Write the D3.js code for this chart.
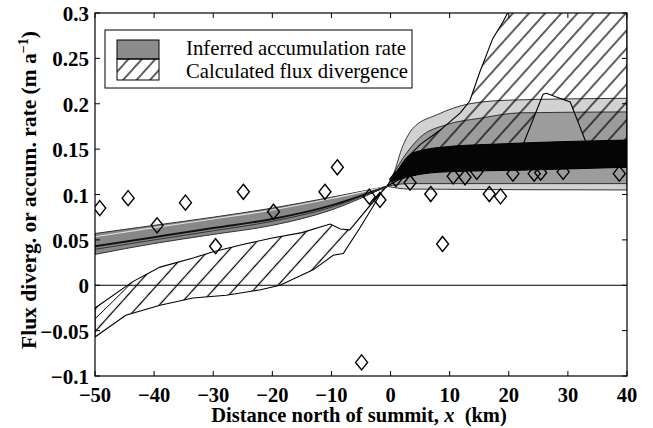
<!DOCTYPE html>
<html>
<head>
<meta charset="utf-8">
<script src="https://cdn.jsdelivr.net/npm/d3@7"></script>
<style>
  body { margin: 0; background: #fff; }
  text { font-family: "Liberation Serif", "Times New Roman", serif; }
</style>
</head>
<body>
<svg id="chart" width="653" height="428"></svg>
<script>
// ---------- data ----------
var xTicks = [-50, -40, -30, -20, -10, 0, 10, 20, 30, 40];
var yTicks = [-0.1, -0.05, 0, 0.05, 0.1, 0.15, 0.2, 0.25, 0.3];
var yTickLabels = ["\u22120.1", "\u22120.05", "0", "0.05", "0.1", "0.15", "0.2", "0.25", "0.3"];

// inferred accumulation rate, south side (bundle of curves)
var accLeftX     = [-50, -40, -30, -20, -10, -0.6];
var accLeftTop   = [0.057, 0.066, 0.075, 0.085, 0.097, 0.109];
var accLeftLight = [0.0535, 0.0635, 0.073, 0.083, 0.0955, 0.109];
var accLeftDark  = [0.043, 0.053, 0.063, 0.073, 0.088, 0.109];
var accLeftLow   = [0.0396, 0.050, 0.060, 0.0705, 0.086, 0.109];
var accLeftBot   = [0.034, 0.046, 0.056, 0.066, 0.083, 0.109];

// inferred accumulation rate, north side
var accOuterTopX = [-0.6, 0.4, 2.1, 3.8, 7.9, 13.4, 20.2, 40];
var accOuterTop  = [0.109, 0.121, 0.154, 0.173, 0.188, 0.200, 0.204, 0.206];
var accOuterBotX = [-0.6, 3, 40];
var accOuterBot  = [0.109, 0.106, 0.105];
var accMidTopX   = [-0.6, 2.1, 5, 9.5, 15.1, 22, 40];
var accMidTop    = [0.109, 0.140, 0.163, 0.177, 0.184, 0.190, 0.191];
var accMidBotX   = [-0.6, 3, 40];
var accMidBot    = [0.109, 0.112, 0.112];
var accCoreTopX  = [0.2, 1.6, 3.8, 9.5, 18, 40];
var accCoreTop   = [0.115, 0.1306, 0.146, 0.1527, 0.1556, 0.160];
var accCoreBotX  = [0.2, 1, 4.4, 9.5, 23.6, 40];
var accCoreBot   = [0.115, 0.116, 0.1215, 0.125, 0.127, 0.130];

// calculated flux divergence, south side
var fluxLeftTopX = [-50, -43.6, -39, -33.4, -30, -25, -20, -15, -10.2, -8.5, -6.9, -5, -2.3, -0.6];
var fluxLeftTop  = [-0.025, 0.004, 0.020, 0.030, 0.037, 0.045, 0.052, 0.058, 0.0675, 0.062, 0.061, 0.076, 0.0975, 0.109];
var fluxLeftBotX = [-50, -44.8, -39, -33.4, -27.8, -22, -18.7, -13.1, -9.7, -8, -5.2, -3, -1.3, -0.6];
var fluxLeftBot  = [-0.057, -0.033, -0.022, -0.014, -0.011, -0.005, 0, 0.017, 0.033, 0.035, 0.063, 0.0866, 0.105, 0.109];
var fluxLeftInX  = [-50, -47, -43.6];
var fluxLeftIn   = [-0.037, -0.018, 0.004];

// calculated flux divergence, north side
var fluxRightTopX = [-0.6, 2.4, 5, 8.4, 11.8, 13.4, 15.1, 17.3, 19, 20.6, 40];
var fluxRightTop  = [0.109, 0.138, 0.155, 0.171, 0.19, 0.203, 0.235, 0.272, 0.29, 0.31, 0.31];
var fluxRightBotX = [-0.6, 3, 10, 20.9, 25.8, 26.4, 27.8, 30.4, 34.7, 40];
var fluxRightBot  = [0.109, 0.122, 0.128, 0.13, 0.2105, 0.2115, 0.208, 0.202, 0.13, 0.13];

// measured accumulation (diamonds)
var obsX = [-49.2, -44.4, -39.5, -34.7, -29.6, -24.9, -19.8, -11.1, -9.0, -4.9, -3.6, -1.8,
            0.9, 3.3, 6.8, 8.8, 10.6, 12.6, 14.6, 16.7, 18.6, 20.7, 24.3, 25.4, 29.2, 38.7];
var obsV = [0.085, 0.096, 0.066, 0.091, 0.043, 0.103, 0.081, 0.103, 0.130, -0.085, 0.0976, 0.094,
            0.117, 0.113, 0.1005, 0.0455, 0.120, 0.119, 0.125, 0.1005, 0.098, 0.123, 0.123, 0.124, 0.125, 0.123];

// ---------- layout ----------
var svg = d3.select('#chart');
var pL = 95, pR = 627, pT = 13, pB = 376;

var x = d3.scaleLinear().domain([-50, 40]).range([pL, pR]);
var y = d3.scaleLinear().domain([-0.1, 0.3]).range([pB, pT]);

var defs = svg.append('defs');
defs.append('clipPath').attr('id', 'plotClip')
    .append('rect').attr('x', pL).attr('y', pT)
    .attr('width', pR - pL).attr('height', pB - pT);

function hatch(id, spacing){
    var p = defs.append('pattern').attr('id', id)
        .attr('patternUnits', 'userSpaceOnUse')
        .attr('width', spacing).attr('height', spacing)
        .attr('patternTransform', 'rotate(42)');
    p.append('line')
        .attr('x1', spacing / 2).attr('y1', 0)
        .attr('x2', spacing / 2).attr('y2', spacing)
        .attr('stroke', '#000').attr('stroke-width', 1.25);
}
hatch('hatchR', 12);
hatch('hatchL', 15);
hatch('hatchLeg', 10);

function pts(xs, vs){
    return xs.map(function(d, i){ return [d, vs[i]]; });
}

var smooth = d3.line().x(function(d){ return x(d[0]); }).y(function(d){ return y(d[1]); })
    .curve(d3.curveMonotoneX);
var straight = d3.line().x(function(d){ return x(d[0]); }).y(function(d){ return y(d[1]); });

function band(gen, topPts, botPts){
    var a = gen(topPts);
    var b = gen(botPts.slice().reverse());
    return a + 'L' + b.slice(1) + 'Z';
}

var plot = svg.append('g').attr('clip-path', 'url(#plotClip)');

// zero line
plot.append('line')
    .attr('x1', pL).attr('x2', pR)
    .attr('y1', y(0)).attr('y2', y(0))
    .attr('stroke', '#000').attr('stroke-width', 1);

// north side accumulation bands (grey)
plot.append('path')
    .attr('d', band(smooth, pts(accOuterTopX, accOuterTop), pts(accOuterBotX, accOuterBot)))
    .attr('fill', '#d2d2d2').attr('stroke', '#222').attr('stroke-width', 0.9);
plot.append('path')
    .attr('d', band(smooth, pts(accMidTopX, accMidTop), pts(accMidBotX, accMidBot)))
    .attr('fill', '#9c9c9c').attr('stroke', '#222').attr('stroke-width', 0.9);

// north side flux divergence (hatched)
plot.append('path')
    .attr('d', band(straight, pts(fluxRightTopX, fluxRightTop), pts(fluxRightBotX, fluxRightBot)))
    .attr('fill', 'url(#hatchR)').attr('stroke', '#000').attr('stroke-width', 1.1);

// south side flux divergence (hatched)
plot.append('path')
    .attr('d', band(straight, pts(fluxLeftTopX, fluxLeftTop), pts(fluxLeftBotX, fluxLeftBot)))
    .attr('fill', 'url(#hatchL)').attr('stroke', '#000').attr('stroke-width', 1.1);
plot.append('path')
    .attr('d', smooth(pts(fluxLeftInX, fluxLeftIn)))
    .attr('fill', 'none').attr('stroke', '#000').attr('stroke-width', 1);

// south side accumulation bundle
plot.append('path')
    .attr('d', band(smooth, pts(accLeftX, accLeftTop), pts(accLeftX, accLeftBot)))
    .attr('fill', '#888').attr('stroke', '#333').attr('stroke-width', 1);
plot.append('path').attr('d', smooth(pts(accLeftX, accLeftLight)))
    .attr('fill', 'none').attr('stroke', '#e0e0e0').attr('stroke-width', 1.1);
plot.append('path').attr('d', smooth(pts(accLeftX, accLeftDark)))
    .attr('fill', 'none').attr('stroke', '#111').attr('stroke-width', 2);
plot.append('path').attr('d', smooth(pts(accLeftX, accLeftLow)))
    .attr('fill', 'none').attr('stroke', '#333').attr('stroke-width', 1);

// diamonds
var dia = 'M0,-7.5L6,0L0,7.5L-6,0Z';
plot.selectAll('path.obs')
    .data(pts(obsX, obsV))
    .enter()
    .append('path')
    .attr('class', 'obs')
    .attr('d', dia)
    .attr('transform', function(d){ return 'translate(' + x(d[0]) + ',' + y(d[1]) + ')'; })
    .attr('fill', 'none').attr('stroke', '#000').attr('stroke-width', 1.4);

// black core band
plot.append('path')
    .attr('d', band(smooth, pts(accCoreTopX, accCoreTop), pts(accCoreBotX, accCoreBot)))
    .attr('fill', '#050505').attr('stroke', '#000').attr('stroke-width', 1);

// ---------- axes ----------
svg.append('rect')
    .attr('x', pL).attr('y', pT)
    .attr('width', pR - pL).attr('height', pB - pT)
    .attr('fill', 'none').attr('stroke', '#000').attr('stroke-width', 1.2);

var tickLen = 5;
xTicks.forEach(function(t){
    svg.append('line').attr('x1', x(t)).attr('x2', x(t)).attr('y1', pB).attr('y2', pB - tickLen)
        .attr('stroke', '#000');
    svg.append('line').attr('x1', x(t)).attr('x2', x(t)).attr('y1', pT).attr('y2', pT + tickLen)
        .attr('stroke', '#000');
    svg.append('text').attr('x', x(t)).attr('y', 402)
        .attr('text-anchor', 'middle').attr('font-size', 20.5).attr('font-weight', 'bold')
        .text(t < 0 ? '\u2212' + Math.abs(t) : String(t));
});
yTicks.forEach(function(t, i){
    svg.append('line').attr('x1', pL).attr('x2', pL + tickLen).attr('y1', y(t)).attr('y2', y(t))
        .attr('stroke', '#000');
    svg.append('line').attr('x1', pR).attr('x2', pR - tickLen).attr('y1', y(t)).attr('y2', y(t))
        .attr('stroke', '#000');
    svg.append('text').attr('x', 89).attr('y', y(t) + 8)
        .attr('text-anchor', 'end').attr('font-size', 21).attr('font-weight', 'bold')
        .text(yTickLabels[i]);
});

// axis titles
var xt = svg.append('text').attr('x', 359).attr('y', 422)
    .attr('text-anchor', 'middle').attr('font-size', 20.5).attr('font-weight', 'bold');
xt.append('tspan').text('Distance north of summit, ');
xt.append('tspan').attr('font-style', 'italic').text('x');
xt.append('tspan').text('\u00a0 (km)');

var yt = svg.append('text')
    .attr('transform', 'translate(36,190) rotate(-90)')
    .attr('text-anchor', 'middle').attr('font-size', 21.5).attr('font-weight', 'bold');
yt.append('tspan').text('Flux diverg. or accum. rate (m a');
yt.append('tspan').attr('dy', -8).attr('font-size', 14).text('\u22121');
yt.append('tspan').attr('dy', 8).text(')');

// ---------- legend ----------
var lg = svg.append('g');
lg.append('rect').attr('x', 105).attr('y', 30).attr('width', 307).attr('height', 58)
    .attr('fill', '#fff').attr('stroke', '#000').attr('stroke-width', 1);
lg.append('rect').attr('x', 117).attr('y', 40).attr('width', 42).attr('height', 19)
    .attr('fill', '#8c8c8c').attr('stroke', '#000').attr('stroke-width', 1);
lg.append('rect').attr('x', 117).attr('y', 59).attr('width', 42).attr('height', 21)
    .attr('fill', 'url(#hatchLeg)').attr('stroke', '#000').attr('stroke-width', 1);
lg.append('text').attr('x', 186).attr('y', 55).attr('font-size', 20.3)
    .attr('textLength', 220).attr('lengthAdjust', 'spacingAndGlyphs')
    .text('Inferred accumulation rate');
lg.append('text').attr('x', 186).attr('y', 78).attr('font-size', 20.3)
    .attr('textLength', 222).attr('lengthAdjust', 'spacingAndGlyphs')
    .text('Calculated flux divergence');
</script>
</body>
</html>
